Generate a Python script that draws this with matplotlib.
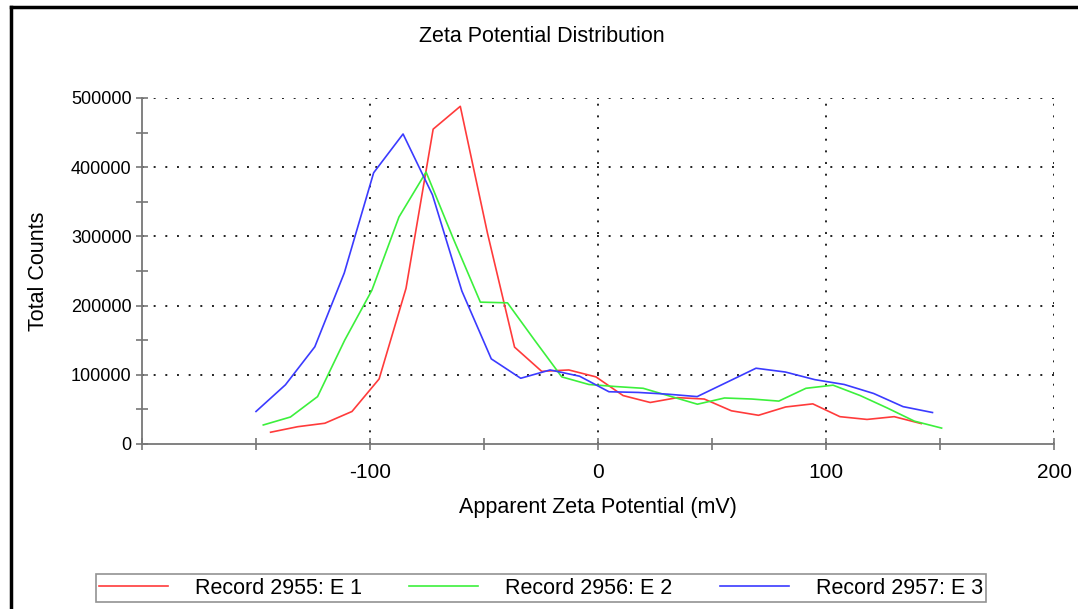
import matplotlib
matplotlib.use("Agg")
import matplotlib.pyplot as plt
from matplotlib.lines import Line2D
from matplotlib.ticker import MultipleLocator

plt.rcParams['font.family'] = ['Liberation Sans', 'DejaVu Sans']
plt.rcParams['axes.unicode_minus'] = False

# Record 2955: E 1 (red)
x_e1 = [-143.6, -131.7, -119.8, -107.9, -96.0, -84.2, -72.3, -60.4, -48.5, -36.6,
        -24.7, -12.8, -0.9, 11.0, 22.9, 34.8, 46.6, 58.5, 70.4, 82.3,
        94.2, 106.1, 118.0, 129.9, 141.8]
y_e1 = [17000, 25000, 30000, 47000, 94000, 225000, 455000, 488000, 305000, 140000,
        105000, 107000, 97000, 70000, 60000, 67000, 65000, 48000, 41500, 53500,
        58000, 39500, 35500, 39500, 29500]

# Record 2956: E 2 (green)
x_e2 = [-146.8, -134.9, -123.0, -111.1, -99.2, -87.3, -75.4, -63.5, -51.6, -39.7,
        -27.8, -15.9, -4.0, 7.9, 19.8, 31.7, 43.6, 55.5, 67.4, 79.3,
        91.2, 103.1, 115.0, 126.9, 138.8, 150.7]
y_e2 = [27500, 39000, 68500, 150000, 222000, 328000, 393000, 297000, 205000, 204000,
        150000, 97000, 86000, 83000, 80500, 69000, 57500, 66500, 65000, 62000,
        80500, 85000, 70000, 52000, 33000, 23000]

# Record 2957: E 3 (blue)
x_e3 = [-150.0, -137.1, -124.2, -111.3, -98.4, -85.5, -72.6, -59.7, -46.8, -33.9,
        -21.0, -8.1, 4.8, 17.7, 30.6, 43.5, 56.4, 69.3, 82.2, 95.1,
        108.0, 120.9, 133.8, 146.7]
y_e3 = [47000, 85500, 140500, 247000, 392000, 448000, 360000, 221000, 123000, 95000,
        107000, 98000, 75500, 74500, 72000, 68500, 89000, 109500, 104000, 93000,
        86000, 73000, 54000, 45500]

labels = ["Record 2955: E 1", "Record 2956: E 2", "Record 2957: E 3"]
colors = ["#ff3b3b", "#3cf03c", "#3b3bff"]

fig = plt.figure(figsize=(10.78, 6.09), dpi=100)
ax = fig.add_axes([142/1078, 1 - 444/609, (1054-142)/1078, (444-98)/609])

for xs, ys, c, lab in zip([x_e1, x_e2, x_e3], [y_e1, y_e2, y_e3], colors, labels):
    ax.plot(xs, ys, color=c, lw=1.2, label=lab)

ax.set_xlim(-200, 200)
ax.set_ylim(0, 500000)
ax.set_xticks([-100, 0, 100, 200])
ax.xaxis.set_minor_locator(MultipleLocator(50))
ax.set_yticks([0, 100000, 200000, 300000, 400000, 500000])
ax.yaxis.set_minor_locator(MultipleLocator(50000))
ax.tick_params(which='both', direction='inout', length=9, width=1.2, color='#777777')
ax.tick_params(axis='x', pad=9, labelsize=15)
ax.tick_params(axis='y', pad=3, labelsize=13)

for s in ['top', 'right']:
    ax.spines[s].set_visible(False)
for s in ['left', 'bottom']:
    ax.spines[s].set_color('#777777')
    ax.spines[s].set_linewidth(1.3)

# dotted grid, including the top and right edges
for gx in [-100, 0, 100, 200]:
    ax.axvline(gx, color='#222222', lw=1.4, ls=(0, (1, 5)), zorder=0)
for gy in [100000, 200000, 300000, 400000, 500000]:
    ax.axhline(gy, color='#222222', lw=1.4, ls=(0, (1, 5)), zorder=0)

ax.set_xlabel("Apparent Zeta Potential (mV)", fontsize=15.5, labelpad=11)
ax.set_ylabel("Total Counts", fontsize=15.5, labelpad=16)
fig.text(0.503, 1 - 36/609, "Zeta Potential Distribution", fontsize=15.5,
         ha='center', va='center')

leg = fig.legend(loc='center', bbox_to_anchor=(541/1078, 1 - 588/609), ncol=3,
                 fontsize=15.5, frameon=True, fancybox=False, handlelength=3.2,
                 columnspacing=2.2, handletextpad=1.25, borderpad=0.15,
                 borderaxespad=0)
leg.get_frame().set_edgecolor('#777777')
leg.get_frame().set_linewidth(1.2)

# black frame on left and top edges
fig.add_artist(Line2D([11/1078, 11/1078], [0, 1 - 7/609], color='black', lw=2.5))
fig.add_artist(Line2D([11/1078, 1], [1 - 7/609, 1 - 7/609], color='black', lw=2.5))

fig.savefig("out.png", dpi=100)
